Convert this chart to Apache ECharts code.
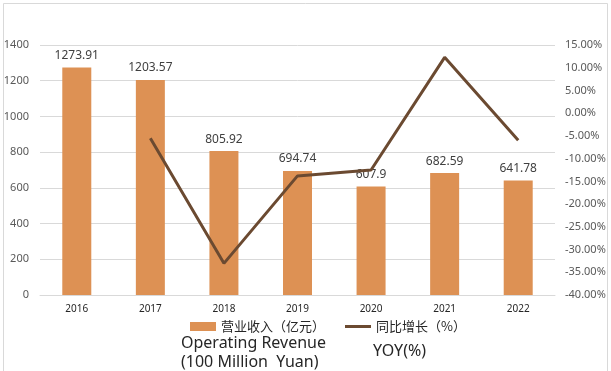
<!DOCTYPE html>
<html>
<head>
<meta charset="utf-8">
<script src="https://cdn.jsdelivr.net/npm/echarts@6/dist/echarts.min.js"></script>
<style>html,body{margin:0;padding:0;background:#fff}#c{width:611px;height:371px}</style>
</head>
<body>
<div id="c"></div>
<script>
const categories = ['2016','2017','2018','2019','2020','2021','2022'];
const revenue = [1273.91, 1203.57, 805.92, 694.74, 607.9, 682.59, 641.78];
const yoy = [null, -5.52, -33.04, -13.80, -12.50, 12.29, -5.98];
const revenueName = '营业收入（亿元）';
const yoyName = '同比增长（%）';
const FONT = '"Noto Sans", "Noto Sans CJK SC", sans-serif';

const chart = echarts.init(document.getElementById('c'), null, {renderer:'canvas'});
chart.setOption({
  animation:false,
  backgroundColor:'#fff',
  textStyle:{fontFamily:FONT},
  grid:{left:40, right:56, top:45, bottom:76, containLabel:false},
  legend:{
    left:190, top:320, padding:0, itemWidth:26, itemHeight:9, itemGap:20,
    textStyle:{fontSize:13, color:'#262626', fontFamily:'"Noto Sans CJK SC", sans-serif'},
    data:[{name:revenueName, icon:'rect'}, {name:yoyName, icon:'path://M0,0H26V3H0Z'}]
  },
  xAxis:{
    type:'category', data:categories,
    axisLine:{lineStyle:{color:'#d9d9d9', width:1}},
    axisTick:{show:false},
    axisLabel:{color:'#262626', fontSize:10, margin:9}
  },
  yAxis:[
    {type:'value', min:0, max:1400, interval:200,
     axisLine:{show:false}, axisTick:{show:false},
     splitLine:{lineStyle:{color:'#d9d9d9'}},
     axisLabel:{color:'#595959', fontSize:11, margin:11, formatter:v=>String(v)}},
    {type:'value', min:-40, max:15, interval:5,
     axisLine:{show:false}, axisTick:{show:false}, splitLine:{show:false},
     axisLabel:{color:'#595959', fontSize:11, margin:10, formatter:v=>v.toFixed(2)+'%'}}
  ],
  series:[
    {name:revenueName, type:'bar', data:revenue, barWidth:29,
     itemStyle:{color:'#DD9154'},
     label:{show:true, position:'top', distance:6, color:'#404040', fontSize:12}},
    {name:yoyName, type:'line', yAxisIndex:1, data:yoy, symbol:'none',
     lineStyle:{color:'#6B4A31', width:3}, itemStyle:{color:'#6B4A31'}}
  ],
  graphic:[
    {type:'rect', shape:{x:3.5, y:3.5, width:604, height:380}, style:{fill:'none', stroke:'#d9d9d9', lineWidth:1}, silent:true},
    {type:'text', left:181, top:335, style:{text:'Operating Revenue', fontSize:16, fill:'#262626', fontFamily:FONT}},
    {type:'text', left:181, top:354, style:{text:'(100 Million  Yuan)', fontSize:16, fill:'#262626', fontFamily:FONT}},
    {type:'text', left:373, top:343, style:{text:'YOY(%)', fontSize:16, fill:'#262626', fontFamily:FONT}}
  ]
});
</script>
</body>
</html>
